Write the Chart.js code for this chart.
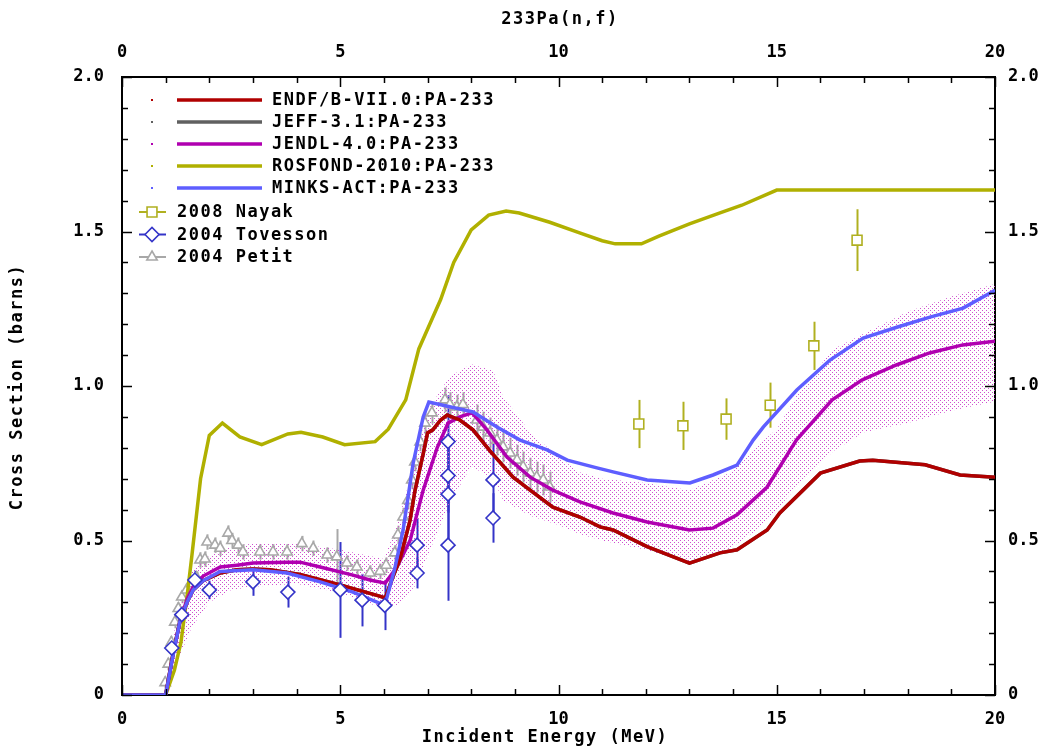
<!DOCTYPE html>
<html>
<head>
<meta charset="utf-8">
<script src="https://cdn.jsdelivr.net/npm/chart.js@4.4.0/dist/chart.umd.min.js"></script>
<style>
  html, body { margin: 0; padding: 0; background: #fff; }
  #wrap { width: 1042px; height: 747px; }
</style>
</head>
<body>
<div id="wrap"><canvas id="chart" width="1042" height="747"></canvas></div>
<script>
// --- evaluated curves (energy in MeV, cross section in barns) ---
const endfX = [0, 1.0, 1.17, 1.33, 1.49, 1.63, 1.86, 2.25, 2.63, 3.0, 3.39, 4.08, 5.0, 5.9, 6.03, 6.2, 6.37, 6.6, 6.71, 6.9, 7.0, 7.12, 7.3, 7.45, 7.74, 8.04, 8.43, 8.96, 9.35, 9.87, 10.49, 10.95, 11.25, 12.03, 13.0, 13.7, 14.09, 14.78, 15.07, 16.0, 16.9, 17.2, 18.0, 18.4, 19.2, 20];
const endfY = [0, 0, 0.135, 0.24, 0.30, 0.34, 0.37, 0.395, 0.405, 0.408, 0.405, 0.39, 0.356, 0.32, 0.314, 0.38, 0.44, 0.566, 0.66, 0.78, 0.848, 0.858, 0.89, 0.906, 0.89, 0.858, 0.79, 0.705, 0.663, 0.608, 0.576, 0.544, 0.534, 0.48, 0.427, 0.46, 0.47, 0.534, 0.589, 0.718, 0.757, 0.76, 0.75, 0.745, 0.712, 0.705];

// JEFF-3.1 lies under ENDF/B-VII.0 everywhere
const jeffX = endfX.slice();
const jeffY = endfY.slice();

const jendlX = [0, 1.0, 1.17, 1.33, 1.49, 1.63, 1.86, 2.25, 2.63, 3.0, 3.78, 4.08, 4.54, 5.29, 5.68, 6.03, 6.3, 6.6, 6.9, 7.22, 7.47, 7.74, 8.02, 8.36, 8.82, 9.35, 9.87, 10.49, 11.25, 12.03, 13.0, 13.54, 14.09, 14.78, 15.45, 16.27, 16.96, 17.74, 18.5, 19.26, 20];
const jendlY = [0, 0, 0.13, 0.24, 0.31, 0.35, 0.385, 0.414, 0.42, 0.427, 0.43, 0.43, 0.414, 0.388, 0.372, 0.362, 0.414, 0.50, 0.663, 0.80, 0.88, 0.90, 0.913, 0.858, 0.77, 0.705, 0.663, 0.625, 0.589, 0.56, 0.534, 0.54, 0.583, 0.673, 0.825, 0.955, 1.02, 1.068, 1.107, 1.133, 1.145];

const rosfondX = [0, 1.0, 1.2, 1.35, 1.5, 1.6, 1.8, 2.0, 2.3, 2.7, 3.2, 3.8, 4.1, 4.6, 5.1, 5.8, 6.1, 6.5, 6.8, 7.3, 7.6, 8.0, 8.4, 8.8, 9.1, 9.8, 10.5, 11.0, 11.3, 11.9, 12.3, 13.0, 13.7, 14.2, 15.0, 20];
const rosfondY = [0, 0, 0.08, 0.17, 0.33, 0.45, 0.70, 0.84, 0.88, 0.835, 0.81, 0.845, 0.85, 0.835, 0.81, 0.82, 0.86, 0.955, 1.12, 1.28, 1.40, 1.505, 1.553, 1.566, 1.56, 1.53, 1.495, 1.47, 1.46, 1.46, 1.485, 1.525, 1.56, 1.585, 1.634, 1.634];

const minksX = [0, 1.0, 1.17, 1.33, 1.49, 1.63, 1.86, 2.25, 3.0, 3.78, 4.54, 5.29, 6.02, 6.25, 6.44, 6.67, 6.9, 7.03, 8.04, 8.59, 9.12, 9.74, 10.2, 10.88, 11.25, 12.03, 13.01, 13.54, 14.09, 14.46, 14.69, 15.46, 16.22, 16.98, 17.75, 18.51, 19.27, 20];
const minksY = [0, 0, 0.13, 0.24, 0.30, 0.34, 0.37, 0.40, 0.405, 0.395, 0.366, 0.333, 0.29, 0.41, 0.534, 0.75, 0.90, 0.948, 0.916, 0.867, 0.825, 0.793, 0.76, 0.735, 0.722, 0.696, 0.686, 0.712, 0.744, 0.825, 0.867, 0.987, 1.084, 1.155, 1.19, 1.223, 1.252, 1.31];

// JENDL-4.0 uncertainty band
const bandX = [1.0, 1.3, 1.6, 2.0, 2.5, 3.0, 4.0, 5.0, 6.0, 6.3, 6.7, 7.0, 7.5, 8.0, 8.5, 8.73, 9.35, 10.0, 10.5, 11.0, 12.0, 13.0, 13.9, 14.5, 15.0, 15.5, 16.3, 17.0, 18.0, 19.0, 20.0];
const bandLo = [0, 0.12, 0.22, 0.30, 0.34, 0.35, 0.36, 0.33, 0.28, 0.29, 0.35, 0.45, 0.62, 0.74, 0.70, 0.63, 0.58, 0.55, 0.52, 0.50, 0.47, 0.427, 0.47, 0.53, 0.60, 0.68, 0.79, 0.85, 0.88, 0.92, 0.95];
const bandHi = [0.02, 0.30, 0.40, 0.45, 0.48, 0.49, 0.49, 0.47, 0.44, 0.55, 0.75, 0.92, 1.03, 1.07, 1.05, 0.965, 0.85, 0.77, 0.72, 0.70, 0.686, 0.663, 0.718, 0.80, 0.86, 0.98, 1.12, 1.17, 1.24, 1.29, 1.33];

// --- measurements ---
const nayakX = [11.84, 12.85, 13.84, 14.85, 15.85, 16.84];
const nayakY = [0.877, 0.871, 0.893, 0.938, 1.13, 1.472];
const nayakErr = [0.078, 0.078, 0.067, 0.073, 0.078, 0.10];

const tovX = [1.14, 1.37, 1.67, 2.0, 3.0, 3.8, 5.0, 5.5, 6.02, 6.76, 6.76, 7.47, 7.47, 7.47, 7.47, 8.5, 8.5];
const tovY = [0.152, 0.26, 0.372, 0.34, 0.366, 0.333, 0.34, 0.307, 0.29, 0.485, 0.395, 0.82, 0.71, 0.65, 0.485, 0.696, 0.573];
const tovErr = [0.02, 0.02, 0.03, 0.03, 0.045, 0.05, 0.155, 0.085, 0.08, 0.085, 0.05, 0.15, 0.12, 0.15, 0.18, 0.12, 0.08];

const petitX = [0.99, 1.06, 1.13, 1.21, 1.29, 1.37, 1.48, 1.6, 1.71, 1.79, 1.9, 1.95, 2.13, 2.25, 2.43, 2.52, 2.66, 2.77, 3.16, 3.46, 3.78, 4.12, 4.38, 4.7, 4.92, 5.15, 5.38, 5.68, 5.91, 6.05, 6.25, 6.32, 6.44, 6.55, 6.64, 6.71, 6.83, 6.94, 7.1, 7.4, 7.51, 7.67, 7.81, 8.13, 8.27, 8.43, 8.59, 8.73, 8.89, 9.05, 9.19, 9.35, 9.5, 9.65, 9.8];
const petitY = [0.04, 0.10, 0.17, 0.236, 0.28, 0.317, 0.34, 0.36, 0.38, 0.437, 0.44, 0.495, 0.485, 0.475, 0.524, 0.50, 0.485, 0.463, 0.463, 0.463, 0.463, 0.49, 0.475, 0.453, 0.447, 0.427, 0.414, 0.395, 0.40, 0.42, 0.46, 0.518, 0.576, 0.63, 0.696, 0.754, 0.819, 0.88, 0.913, 0.955, 0.94, 0.932, 0.94, 0.89, 0.867, 0.848, 0.825, 0.803, 0.783, 0.76, 0.738, 0.718, 0.705, 0.696, 0.673];
const petitErr = [0.02, 0.02, 0.02, 0.02, 0.02, 0.02, 0.02, 0.02, 0.02, 0.025, 0.025, 0.025, 0.025, 0.025, 0.025, 0.025, 0.025, 0.025, 0.025, 0.025, 0.025, 0.025, 0.025, 0.025, 0.09, 0.025, 0.025, 0.025, 0.025, 0.025, 0.025, 0.03, 0.03, 0.03, 0.03, 0.03, 0.03, 0.035, 0.035, 0.04, 0.04, 0.04, 0.04, 0.05, 0.05, 0.05, 0.05, 0.05, 0.05, 0.05, 0.05, 0.05, 0.05, 0.05, 0.05];

// --- axes ---
const xTickValues = [0, 5, 10, 15, 20];
const xTickLabels = ['0', '5', '10', '15', '20'];
const yTickValues = [0, 0.5, 1.0, 1.5, 2.0];
const yTickLabels = ['0', '0.5', '1.0', '1.5', '2.0'];

const FONT = "'DejaVu Sans Mono', monospace";
const C_ENDF = '#b00000', C_JEFF = '#606060', C_JENDL = '#b000b0', C_ROS = '#b0b000', C_MINKS = '#5e5eff';
const C_NAYAK = '#b0b020', C_TOV = '#3434c8', C_PETIT = '#a8a8a8';

const pts = (xs, ys) => xs.map((x, i) => ({ x: x, y: ys[i] }));

// dotted fill like the original plot
const pc = document.createElement('canvas');
pc.width = 4; pc.height = 4;
const pctx = pc.getContext('2d');
pctx.fillStyle = '#d050d0';
pctx.fillRect(0, 0, 1, 1);
pctx.fillRect(2, 2, 1, 1);
const bandPattern = pctx.createPattern(pc, 'repeat');

function curve(label, xs, ys, color, order) {
  return { label: label, data: pts(xs, ys), showLine: true, borderColor: color, backgroundColor: color,
           borderWidth: 3.5, pointRadius: 0, pointHoverRadius: 0, fill: false, order: order };
}
function marks(label, xs, ys, color, style, r, order) {
  return { label: label, data: pts(xs, ys), showLine: false, pointStyle: style, pointRadius: r,
           pointBorderColor: color, pointBackgroundColor: '#fff', pointBorderWidth: 1.6, order: order };
}

const errs = { 0: [tovErr, C_TOV], 1: [nayakErr, C_NAYAK], 7: [petitErr, C_PETIT] };

// vertical error bars, drawn under the markers
const errorBars = {
  id: 'errorBars',
  beforeDatasetsDraw(chart) {
    const { ctx, scales: { x, y } } = chart;
    ctx.save();
    ctx.lineWidth = 2;
    Object.keys(errs).forEach(k => {
      const [e, color] = errs[k];
      ctx.strokeStyle = color;
      chart.data.datasets[k].data.forEach((p, i) => {
        const px = Math.round(x.getPixelForValue(p.x)) + 0.5;
        ctx.beginPath();
        ctx.moveTo(px, y.getPixelForValue(p.y - e[i]));
        ctx.lineTo(px, y.getPixelForValue(p.y + e[i]));
        ctx.stroke();
      });
    });
    ctx.restore();
  }
};

// inward ticks on all four sides
const innerTicks = {
  id: 'innerTicks',
  afterDraw(chart) {
    const { ctx, chartArea: a, scales: { x, y } } = chart;
    ctx.save();
    ctx.strokeStyle = '#000';
    ctx.lineWidth = 1.5;
    const seg = (x1, y1, x2, y2) => { ctx.beginPath(); ctx.moveTo(x1, y1); ctx.lineTo(x2, y2); ctx.stroke(); };
    for (let v = 0; v <= 20; v++) {
      const px = Math.round(x.getPixelForValue(v)) + 0.5;
      const len = v % 5 === 0 ? 10 : 6;
      seg(px, a.bottom, px, a.bottom - len);
      seg(px, a.top, px, a.top + len);
    }
    for (let k = 0; k <= 20; k++) {
      const py = Math.round(y.getPixelForValue(k / 10)) + 0.5;
      const len = k % 5 === 0 ? 10 : 6;
      seg(a.left, py, a.left + len, py);
      seg(a.right, py, a.right - len, py);
    }
    ctx.restore();
  }
};

// legend and titles
const legendItems = [
  { text: 'ENDF/B-VII.0:PA-233', color: C_ENDF },
  { text: 'JEFF-3.1:PA-233', color: C_JEFF },
  { text: 'JENDL-4.0:PA-233', color: C_JENDL },
  { text: 'ROSFOND-2010:PA-233', color: C_ROS },
  { text: 'MINKS-ACT:PA-233', color: C_MINKS }
];
const legendMarks = [
  { text: '2008 Nayak', color: C_NAYAK, style: 'rect', r: 7 },
  { text: '2004 Tovesson', color: C_TOV, style: 'rectRot', r: 7 },
  { text: '2004 Petit', color: C_PETIT, style: 'triangle', r: 6 }
];

const decorations = {
  id: 'decorations',
  afterDraw(chart) {
    const { ctx, chartArea: a } = chart;
    ctx.save();
    ctx.font = 'bold 17px ' + FONT;
    ctx.letterSpacing = '1.5px';
    ctx.fillStyle = '#000';
    ctx.textBaseline = 'middle';

    legendItems.forEach((it, i) => {
      const yy = a.top + 23 + i * 22;
      ctx.fillStyle = it.color;
      ctx.fillRect(a.left + 29, yy - 1, 2, 2);
      ctx.strokeStyle = it.color;
      ctx.lineWidth = 3.5;
      ctx.beginPath(); ctx.moveTo(a.left + 55, yy); ctx.lineTo(a.left + 140, yy); ctx.stroke();
      ctx.fillStyle = '#000';
      ctx.textAlign = 'left';
      ctx.fillText(it.text, a.left + 150, yy + 1);
    });
    legendMarks.forEach((it, i) => {
      const yy = a.top + 135 + i * 22.5;
      ctx.strokeStyle = it.color;
      ctx.lineWidth = 2;
      ctx.beginPath(); ctx.moveTo(a.left + 17, yy); ctx.lineTo(a.left + 44, yy); ctx.stroke();
      ctx.fillStyle = '#fff';
      ctx.lineWidth = 1.6;
      Chart.helpers.drawPoint(ctx, { pointStyle: it.style, radius: it.r, rotation: 0, borderWidth: 1.6 }, a.left + 30, yy);
      ctx.fillStyle = '#000';
      ctx.textAlign = 'left';
      ctx.fillText(it.text, a.left + 55, yy + 1);
    });

    ctx.textAlign = 'center';
    ctx.fillText('233Pa(n,f)', 560, 20);
    ctx.fillText('Incident Energy (MeV)', 545, 738);
    ctx.translate(18, 387);
    ctx.rotate(-Math.PI / 2);
    ctx.fillText('Cross Section (barns)', 0, 0);
    ctx.restore();
  }
};

const tickFont = { family: FONT, size: 17, weight: 'bold' };
function axis(pos, values, labels, size, pad) {
  return {
    type: 'linear', position: pos, min: values[0], max: values[values.length - 1],
    grid: { display: false },
    border: { display: true, color: '#000', width: 2 },
    afterBuildTicks: s => { s.ticks = values.map(v => ({ value: v })); },
    afterFit: s => { if (pos === 'top' || pos === 'bottom') s.height = size; else s.width = size; },
    ticks: { font: tickFont, color: '#000', padding: pad, maxRotation: 0, autoSkip: false,
             callback: v => labels[values.indexOf(v)] }
  };
}

new Chart(document.getElementById('chart'), {
  type: 'scatter',
  data: {
    datasets: [
      marks('2004 Tovesson', tovX, tovY, C_TOV, 'rectRot', 7, 1),
      marks('2008 Nayak', nayakX, nayakY, C_NAYAK, 'rect', 7, 1),
      curve('MINKS-ACT:PA-233', minksX, minksY, C_MINKS, 2),
      curve('ENDF/B-VII.0:PA-233', endfX, endfY, C_ENDF, 3),
      curve('JEFF-3.1:PA-233', jeffX, jeffY, C_JEFF, 4),
      curve('JENDL-4.0:PA-233', jendlX, jendlY, C_JENDL, 5),
      curve('ROSFOND-2010:PA-233', rosfondX, rosfondY, C_ROS, 6),
      marks('2004 Petit', petitX, petitY, C_PETIT, 'triangle', 6, 7),
      { label: 'band hi', data: pts(bandX, bandHi), showLine: true, borderWidth: 0, borderColor: 'rgba(0,0,0,0)',
        pointRadius: 0, fill: '+1', backgroundColor: bandPattern, order: 8 },
      { label: 'band lo', data: pts(bandX, bandLo), showLine: true, borderWidth: 0, borderColor: 'rgba(0,0,0,0)',
        pointRadius: 0, fill: false, order: 9 }
    ]
  },
  options: {
    responsive: false,
    animation: false,
    devicePixelRatio: 1,
    layout: { padding: 0 },
    plugins: { legend: { display: false }, tooltip: { enabled: false }, title: { display: false } },
    scales: {
      x: axis('bottom', xTickValues, xTickLabels, 52, 6),
      x2: axis('top', xTickValues, xTickLabels, 77, 6),
      y: axis('left', yTickValues, yTickLabels, 122, 10),
      y2: axis('right', yTickValues, yTickLabels, 47, 5)
    }
  },
  plugins: [errorBars, innerTicks, decorations]
});
</script>
</body>
</html>
